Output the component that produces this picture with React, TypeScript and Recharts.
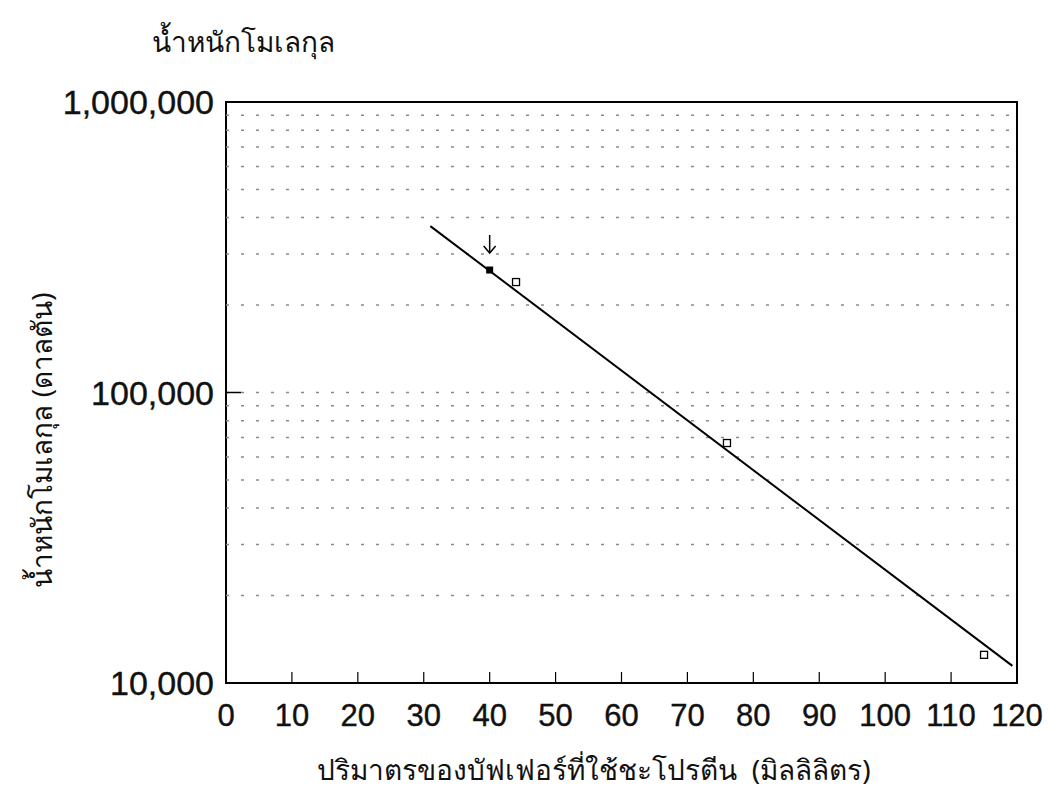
import React from "react";
import {
  ComposedChart,
  Scatter,
  XAxis,
  YAxis,
  ReferenceLine,
  ReferenceArea,
} from "recharts";

// x ticks (ml) and y ticks (Dalton, log scale)
const xTicks = [0, 10, 20, 30, 40, 50, 60, 70, 80, 90, 100, 110, 120];
const yTicks = [10000, 100000, 1000000];
const gridValues = [
  20000, 30000, 40000, 50000, 60000, 70000, 80000, 90000, 100000,
  200000, 300000, 400000, 500000, 600000, 700000, 800000, 900000,
];

// marked sample (arrow) and standard proteins
const markedPoint = [{ x: 40, y: 264000 }];
const standards = [
  { x: 44, y: 240000 },
  { x: 76, y: 67000 },
  { x: 115, y: 12500 },
];
// fitted standard curve end points
const fitLine = [
  { x: 31, y: 374000 },
  { x: 119.3, y: 11450 },
];

const numFont = "'Liberation Sans', Arial, Helvetica, sans-serif";
const thaiFont = "'Noto Sans', 'DejaVu Sans', sans-serif";

const XTick = (props: any) => {
  const { x, y, payload } = props;
  return (
    <g>
      {payload.value > 0 && payload.value < 120 && (
        <line x1={x} x2={x} y1={y} y2={y - 11} stroke="#000" strokeWidth={1.2} />
      )}
      <text
        x={x}
        y={y + 43}
        textAnchor="middle"
        fontSize={31}
        fontFamily={numFont}
        fill="#111"
        stroke="#111"
        strokeWidth={0.4}
      >
        {payload.value}
      </text>
    </g>
  );
};

const YTick = (props: any) => {
  const { x, y, payload } = props;
  return (
    <g>
      <line x1={x} x2={x + 15} y1={y} y2={y} stroke="#000" strokeWidth={1.5} />
      <text
        x={x - 12}
        y={y}
        dy="0.36em"
        textAnchor="end"
        fontSize={34}
        fontFamily={numFont}
        fill="#111"
        stroke="#111"
        strokeWidth={0.4}
      >
        {payload.value.toLocaleString("en-US")}
      </text>
    </g>
  );
};

const OpenSquare = (props: any) => {
  const { cx, cy } = props;
  return (
    <rect x={cx - 3.5} y={cy - 3.5} width={7} height={7} fill="#fff" stroke="#000" strokeWidth={1.3} />
  );
};

const MarkedSquare = (props: any) => {
  const { cx, cy } = props;
  return (
    <g>
      <rect x={cx - 3.5} y={cy - 3.5} width={7} height={7} fill="#000" />
      <line x1={cx} x2={cx} y1={cy - 35} y2={cy - 17} stroke="#000" strokeWidth={1.5} />
      <path
        d={`M${cx - 6},${cy - 24} L${cx},${cy - 17} L${cx + 6},${cy - 24}`}
        fill="none"
        stroke="#000"
        strokeWidth={1.5}
      />
    </g>
  );
};

export default function App() {
  return (
    <div style={{ position: "absolute", left: 0, top: 0, width: 1049, height: 793, background: "#fff" }}>
      <ComposedChart
        width={1049}
        height={793}
        margin={{ top: 102, right: 32, bottom: 0, left: 0 }}
      >
        <XAxis
          type="number"
          dataKey="x"
          domain={[0, 120]}
          ticks={xTicks}
          height={110}
          axisLine={false}
          tickLine={false}
          tickSize={0}
          tickMargin={0}
          tick={<XTick />}
          allowDataOverflow
        />
        <YAxis
          type="number"
          dataKey="y"
          scale="log"
          domain={[10000, 1000000]}
          ticks={yTicks}
          width={226}
          axisLine={false}
          tickLine={false}
          tickSize={0}
          tickMargin={0}
          tick={<YTick />}
          allowDataOverflow
        />
        {gridValues.map((v) => (
          <ReferenceLine
            key={v}
            y={v}
            stroke="#8a8a8a"
            strokeWidth={1.5}
            strokeDasharray="3 12"
          />
        ))}
        <ReferenceArea
          x1={0}
          x2={120}
          y1={10000}
          y2={1000000}
          fill="none"
          stroke="#000"
          strokeWidth={2}
          ifOverflow="visible"
        />
        <Scatter
          data={fitLine}
          line={{ stroke: "#000", strokeWidth: 2 }}
          shape={() => null}
          isAnimationActive={false}
        />
        <Scatter data={standards} shape={<OpenSquare />} isAnimationActive={false} />
        <Scatter data={markedPoint} shape={<MarkedSquare />} isAnimationActive={false} />
      </ComposedChart>
      <svg
        width={1049}
        height={793}
        style={{ position: "absolute", left: 0, top: 0, pointerEvents: "none" }}
      >
        <text x={152} y={52} fontSize={28} fontFamily={thaiFont} fill="#111">
          น้ำหนักโมเลกุล
        </text>
        <text x={594} y={780} fontSize={28} textAnchor="middle" fontFamily={thaiFont} fill="#111">
          {"ปริมาตรของบัฟเฟอร์ที่ใช้ชะโปรตีน\u00A0\u00A0(มิลลิลิตร)"}
        </text>
        <text
          transform="translate(52,440) rotate(-90)"
          fontSize={28}
          textAnchor="middle"
          fontFamily={thaiFont}
          fill="#111"
        >
          น้ำหนักโมเลกุล (ดาลตัน)
        </text>
      </svg>
    </div>
  );
}
